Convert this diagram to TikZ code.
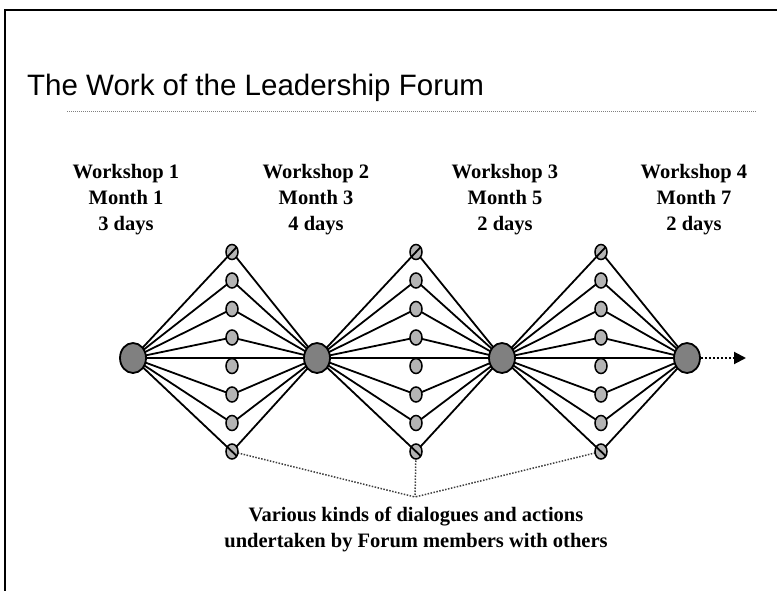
\documentclass[tikz,border=0pt]{standalone}
\usepackage{fontspec}
\setmainfont{Liberation Serif}
\newfontfamily\titlefont{Liberation Sans}
\usetikzlibrary{shapes.geometric,arrows.meta}
\definecolor{hubgray}{HTML}{808080}
\definecolor{dotgray}{HTML}{B4B4B4}
\tikzset{
  hub/.style={ellipse,draw=black,line width=1.8pt,fill=hubgray,minimum width=26pt,minimum height=30pt,inner sep=0pt},
  dot/.style={ellipse,draw=black,line width=1.5pt,fill=dotgray,minimum width=12pt,minimum height=15pt,inner sep=0pt},
  link/.style={line width=1.8pt},
  lab/.style={align=center,inner sep=0pt,anchor=north,font=\bfseries\fontsize{20.5}{26}\selectfont},
  dotline/.style={line width=1.5pt,dash pattern=on 1.5pt off 1.5pt,black!75}
}
\begin{document}
\begin{tikzpicture}[x=1pt,y=-1pt]
\useasboundingbox (0,0) rectangle (777,591);
% frame
\draw[line width=2.2pt] (5,591) -- (5,10) -- (777,10);
% title
\node[anchor=base west,inner sep=0pt,font=\titlefont\fontsize{29.5}{33}\selectfont] (title) at (27,96) {The Work of the Leadership Forum};
\draw[line width=1pt,dash pattern=on 1pt off 1pt,black!50] (67,112) -- (757,112);
% labels
\node[lab] (w1) at (126,164) {Workshop 1\\Month 1\\3 days};
\node[lab] (w2) at (316,164) {Workshop 2\\Month 3\\4 days};
\node[lab] (w3) at (505,164) {Workshop 3\\Month 5\\2 days};
\node[lab] (w4) at (694,164) {Workshop 4\\Month 7\\2 days};
% hubs positions
\coordinate (p1) at (133,358);
\coordinate (p2) at (317,358);
\coordinate (p3) at (502,358);
\coordinate (p4) at (687,358);
% small nodes
\foreach \c/\x in {1/232,2/416,3/601}{
  \foreach \k in {1,...,8}{
    \coordinate (c\c-\k) at (\x,{252+(\k-1)*28.5});
  }
}
% links
\foreach \c/\l/\r in {1/1/2,2/2/3,3/3/4}{
  \foreach \k in {2,3,4,6,7}{
    \draw[link] (p\l) -- (c\c-\k);
  }
  \foreach \k in {1,2,3,4,6,7,8}{
    \draw[link] (p\r) -- (c\c-\k);
  }
}
\draw[link] (p1) -- (p4);
% dotted connectors
\coordinate (meet) at (415,497);
\draw[dotline] (c1-8) -- (meet);
\draw[dotline] (c2-8) -- (meet);
\draw[dotline] (c3-8) -- (meet);
% draw nodes on top
\foreach \c in {1,2,3}{
  \foreach \k in {1,...,8}{
    \node[dot] (n\c-\k) at (c\c-\k) {};
  }
}
% lines crossing the outermost nodes
\foreach \c/\l in {1/1,2/2,3/3}{
  \draw[link,shorten >=-7pt] (p\l) -- (n\c-1.center);
  \draw[link,shorten >=-7pt] (p\l) -- (n\c-8.center);
}
\node[hub] (h1) at (p1) {};
\node[hub] (h2) at (p2) {};
\node[hub] (h3) at (p3) {};
\node[hub] (h4) at (p4) {};
% arrow
\coordinate (arrowend) at (746,358);
\draw[line width=2pt,dash pattern=on 2pt off 2pt,-{Triangle[length=12pt,width=12pt]}] (h4.east) -- (arrowend);
% bottom text
\node[lab] (note) at (416,507) {Various kinds of dialogues and actions\\undertaken by Forum members with others};
\end{tikzpicture}
\end{document}
